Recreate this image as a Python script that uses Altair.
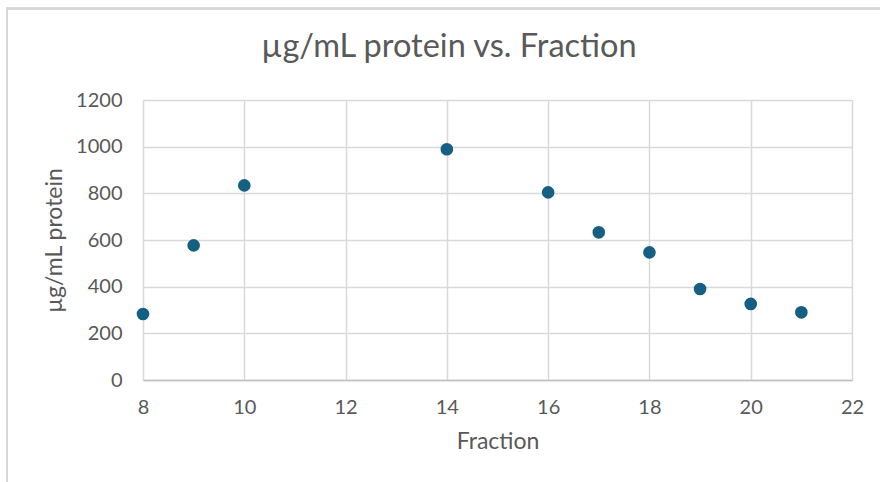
import altair as alt
import pandas as pd

fraction = [8, 9, 10, 14, 16, 17, 18, 19, 20, 21]
protein = [283, 577, 834, 989, 804, 633, 547, 390, 326, 290]
title_text = ["µg/mL protein vs. Fraction"]

df = pd.DataFrame({"Fraction": fraction, "protein": protein})

FONT = "Lato"
GRAY = "#595959"

base = alt.Chart(df)

points = base.mark_circle(size=160, opacity=1, color="#156082").encode(
    x=alt.X("Fraction:Q",
            scale=alt.Scale(domain=[8, 22], nice=False, zero=False),
            axis=alt.Axis(values=[8, 10, 12, 14, 16, 18, 20, 22], title="Fraction",
                          labelPadding=17, titlePadding=13, ticks=False, labelFlush=False,
                          domainColor="#bfbfbf", domainWidth=1.5)),
    y=alt.Y("protein:Q",
            scale=alt.Scale(domain=[0, 1200], nice=False),
            axis=alt.Axis(values=[0, 200, 400, 600, 800, 1000, 1200], title="µg/mL protein",
                          format="d", labelFlush=False,
                          labelPadding=21, titlePadding=9, ticks=False, domain=False)),
)

left_border = base.mark_rule(color="#d9d9d9", strokeWidth=2).encode(
    x=alt.value(-136), y=alt.value(-92), y2=alt.value(382)
)
top_border = base.mark_rule(color="#d9d9d9", strokeWidth=2).encode(
    x=alt.value(-137), x2=alt.value(737), y=alt.value(-91.5)
)

title = alt.Chart(pd.DataFrame({"t": title_text})).mark_text(
    font=FONT, fontSize=32.5, color=GRAY, baseline="alphabetic", align="center"
).encode(x=alt.value(306), y=alt.value(-43), text="t:N")

chart = alt.layer(left_border, top_border, points, title).properties(
    width=709,
    height=280,
    autosize=alt.AutoSizeParams(type="none"),
    padding={"left": 143, "top": 100, "right": 28, "bottom": 102},
).configure(background="white").configure_view(stroke=None).configure_axis(
    labelFont=FONT, titleFont=FONT, labelFontSize=20, titleFontSize=23,
    labelColor=GRAY, titleColor=GRAY, titleFontWeight="normal",
    gridColor="#d9d9d9", gridWidth=1.5,
)

chart.save("out.html", embed_options={"renderer": "svg", "actions": False})
